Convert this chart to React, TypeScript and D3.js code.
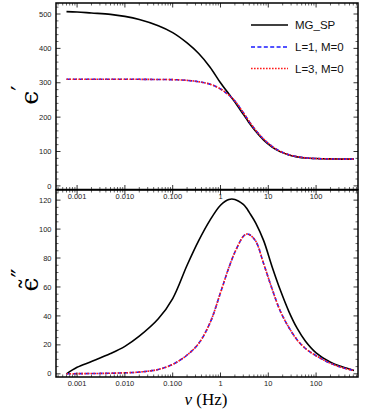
import React from "react";
import * as d3 from "d3";

// frequency grid (Hz) and values
const freq = [0.0006, 0.001, 0.002, 0.005, 0.01, 0.02, 0.05, 0.1, 0.2, 0.35, 0.6, 1, 1.5, 2, 3, 3.5, 4, 5.5, 8, 12, 18, 27, 40, 60, 100, 200, 350, 620];

const epsRealMG = [507, 506, 503, 499, 493, 484, 466, 446, 416, 385, 346, 300, 267, 244, 208, 195, 183, 158, 133, 113, 99, 90, 84.5, 81, 79.5, 78.5, 78, 78];
const epsRealL1 = [310, 310, 310, 310, 310, 310, 309.5, 309, 307, 303, 296, 282, 264, 247, 213, 199, 187, 161, 136, 115, 100, 90.5, 85, 81.5, 79.5, 78.5, 78, 78];
const epsRealL3 = [310, 310, 310, 310, 310, 310, 309.5, 309, 307, 303, 296, 282, 264, 247, 213, 199, 187, 161, 136, 115, 100, 90.5, 85, 81.5, 79.5, 78.5, 78, 78];

const epsImagMG = [0, 4.5, 8.5, 14, 19, 26, 38, 52, 75, 92, 106, 116.5, 120.5, 120.5, 117, 114.5, 111.5, 104, 92, 74, 57.5, 43, 31.5, 22.5, 14.5, 8, 4.8, 2.3];
const epsImagL1 = [0, 0.1, 0.2, 0.4, 0.7, 1.2, 3, 6.5, 13, 21, 35, 56, 73.5, 84, 95, 96.5, 96.2, 91.5, 76, 58.7, 43, 32, 23.5, 17.5, 12.5, 7.3, 4.3, 2.3];
const epsImagL3 = [0, 0.1, 0.2, 0.4, 0.7, 1.2, 3, 6.5, 13, 21, 35, 56, 73.5, 84, 95, 96.5, 96.2, 91.5, 76, 58.7, 43, 32, 23.5, 17.5, 12.5, 7.3, 4.3, 2.3];

const xTicks = [0.001, 0.01, 0.1, 1, 10, 100];
const xTickLabels = ["0.001", "0.010", "0.100", "1", "10", "100"];
const topYTicks = [0, 100, 200, 300, 400, 500];
const bottomYTicks = [0, 20, 40, 60, 80, 100, 120];

const legendNames = ["MG_SP", "L=1, M=0", "L=3, M=0"];

const W = 374;
const H = 412;
const left = 56;
const right = 358;

const x = d3.scaleLog().domain([3.62e-4, 753]).range([left, right]);

const styles = [
  { stroke: "#000", dash: undefined, width: 1.6 },
  { stroke: "#1a1aff", dash: "4,2.4", width: 1.6 },
  { stroke: "#ff1a1a", dash: "1.6,1.4", width: 1.6 },
];

const tickFont = "Liberation Sans, Arial, sans-serif";

function minorX(): number[] {
  const out: number[] = [];
  const [a, b] = x.domain();
  for (let e = -4; e <= 3; e++) {
    for (let k = 2; k <= 9; k++) {
      const v = k * Math.pow(10, e);
      if (v > a && v < b) out.push(v);
    }
  }
  return out;
}

type PanelProps = {
  top: number;
  bottom: number;
  yDomain: [number, number];
  yTicks: number[];
  yMinorStep: number;
  series: number[][];
};

function Panel({ top, bottom, yDomain, yTicks, yMinorStep, series }: PanelProps) {
  const y = d3.scaleLinear().domain(yDomain).range([bottom, top]);
  const line = d3
    .line<number>()
    .x((_, i) => x(freq[i]))
    .y((d) => y(d))
    .curve(d3.curveCatmullRom.alpha(0.5));

  const minorY = d3.range(0, yDomain[1], yMinorStep).filter((v) => yTicks.indexOf(v) < 0);
  const mx = minorX();
  const major = 4.5;
  const minor = 2.5;

  return (
    <g>
      {series.map((s, i) => (
        <path
          key={i}
          d={line(s) || ""}
          fill="none"
          stroke={styles[i].stroke}
          strokeWidth={styles[i].width}
          strokeDasharray={styles[i].dash}
        />
      ))}
      {/* x ticks bottom & top */}
      {xTicks.map((t) => (
        <g key={"xt" + t} stroke="#000" strokeWidth={0.8}>
          <line x1={x(t)} x2={x(t)} y1={bottom} y2={bottom - major} />
          <line x1={x(t)} x2={x(t)} y1={top} y2={top + major} />
        </g>
      ))}
      {mx.map((t) => (
        <g key={"xm" + t} stroke="#000" strokeWidth={0.6}>
          <line x1={x(t)} x2={x(t)} y1={bottom} y2={bottom - minor} />
          <line x1={x(t)} x2={x(t)} y1={top} y2={top + minor} />
        </g>
      ))}
      {/* y ticks left & right */}
      {yTicks.map((t) => (
        <g key={"yt" + t} stroke="#000" strokeWidth={0.8}>
          <line x1={left} x2={left + major} y1={y(t)} y2={y(t)} />
          <line x1={right} x2={right - major} y1={y(t)} y2={y(t)} />
        </g>
      ))}
      {minorY.map((t) => (
        <g key={"ym" + t} stroke="#000" strokeWidth={0.6}>
          <line x1={left} x2={left + minor} y1={y(t)} y2={y(t)} />
          <line x1={right} x2={right - minor} y1={y(t)} y2={y(t)} />
        </g>
      ))}
      {yTicks.map((t) => (
        <text
          key={"yl" + t}
          x={left - 4.5}
          y={y(t)}
          dy="0.35em"
          textAnchor="end"
          fontFamily={tickFont}
          fontSize={7.5}
          fill="#222"
        >
          {t}
        </text>
      ))}
      {xTicks.map((t, i) => (
        <text
          key={"xl" + t}
          x={x(t)}
          y={bottom + 9}
          textAnchor="middle"
          fontFamily={tickFont}
          fontSize={7.5}
          fill="#222"
        >
          {xTickLabels[i]}
        </text>
      ))}
      <rect x={left} y={top} width={right - left} height={bottom - top} fill="none" stroke="#000" strokeWidth={1.5} />
    </g>
  );
}

export default function App() {
  const legendY = [25, 47, 68.5];
  return (
    <svg width={W} height={H} style={{ position: "absolute", left: 0, top: 0, background: "#fff" }}>
      <rect width={W} height={H} fill="#fff" />
      <Panel
        top={3}
        bottom={189.5}
        yDomain={[-10.5, 532]}
        yTicks={topYTicks}
        yMinorStep={20}
        series={[epsRealMG, epsRealL1, epsRealL3]}
      />
      <Panel
        top={190}
        bottom={377}
        yDomain={[-2.2, 127]}
        yTicks={bottomYTicks}
        yMinorStep={5}
        series={[epsImagMG, epsImagL1, epsImagL3]}
      />
      {/* legend */}
      {legendNames.map((n, i) => (
        <g key={n}>
          <line
            x1={251}
            x2={288}
            y1={legendY[i]}
            y2={legendY[i]}
            stroke={styles[i].stroke}
            strokeWidth={styles[i].width}
            strokeDasharray={styles[i].dash}
          />
          <text x={295} y={legendY[i]} dy="0.36em" fontFamily={tickFont} fontSize={11.5} fill="#111">
            {n}
          </text>
        </g>
      ))}
      {/* axis titles, rotated so they read upward */}
      <text
        transform="translate(38,95) rotate(-90)"
        textAnchor="middle"
        fontFamily="DejaVu Serif, serif"
        fontSize={25}
      >
        <tspan>{"\u03F5"}</tspan>
        <tspan dy={-9} fontSize={24}>{"\u2032"}</tspan>
      </text>
      <text
        transform="translate(38,280) rotate(-90)"
        textAnchor="middle"
        fontFamily="DejaVu Serif, serif"
        fontSize={25}
      >
        <tspan>{"\u03F5\u0303"}</tspan>
        <tspan dy={-9} fontSize={24}>{"\u2033"}</tspan>
      </text>
      <text x={206} y={405} textAnchor="middle" fontFamily="Liberation Serif, serif" fontSize={17}>
        <tspan fontStyle="italic">ν</tspan>
        <tspan> (Hz)</tspan>
      </text>
    </svg>
  );
}
